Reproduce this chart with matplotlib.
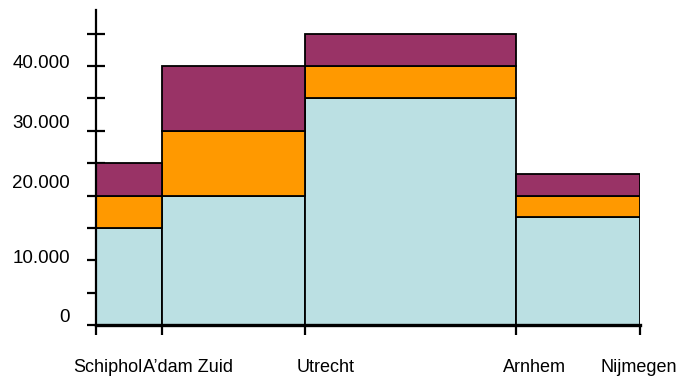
import matplotlib
matplotlib.use("Agg")
import matplotlib.pyplot as plt
import matplotlib.transforms as mtransforms
import numpy as np

plt.rcParams['font.family'] = ['Liberation Sans', 'DejaVu Sans']

# Stations along the route and the cumulative route position of each
stations = ["Schiphol", "A\u2019dam Zuid", "Utrecht", "Arnhem", "Nijmegen"]
positions = [0, 66, 209, 420, 544]

# Passenger volumes per section (three stacked segments)
seg_base = [15000, 20000, 35000, 16700]
seg_mid = [5000, 10000, 5000, 3300]
seg_top = [5000, 10000, 5000, 3300]

colors = ["#BBE0E3", "#FF9900", "#993366"]

y_ticks_major = [0, 10000, 20000, 30000, 40000]
y_tick_labels = ["0", "10.000", "20.000", "30.000", "40.000"]
y_ticks_all = list(range(0, 45001, 5000))

fig = plt.figure(figsize=(6.83, 3.78), dpi=100)
ax = fig.add_axes([96 / 683, 53 / 378, 544 / 683, 315 / 378])

left = np.array(positions[:-1])
widths = np.diff(positions)
bottom = np.zeros(len(widths))
for vals, col in zip([seg_base, seg_mid, seg_top], colors):
    ax.bar(left, vals, width=widths, bottom=bottom, align='edge',
           color=col, edgecolor='black', linewidth=1.3, zorder=2)
    bottom += np.array(vals)

ax.set_xlim(positions[0], positions[-1])
ax.set_ylim(0, 48650)

for s in ['top', 'right']:
    ax.spines[s].set_visible(False)
ax.spines['left'].set_linewidth(1.6)
ax.spines['bottom'].set_linewidth(2.4)
ax.spines['left'].set_zorder(3)
ax.spines['bottom'].set_zorder(3)

# y axis: ticks crossing the axis, labels drawn separately
ax.set_yticks(y_ticks_all)
ax.set_yticklabels([])
ax.tick_params(axis='y', direction='inout', length=13.5, width=1.6)
label_shift_px = [8, 2, 12, 7, 2.5]
for val, lab, dy in zip(y_ticks_major, y_tick_labels, label_shift_px):
    tr = ax.get_yaxis_transform() + mtransforms.ScaledTranslation(
        -26 / 100, dy / 100, fig.dpi_scale_trans)
    ax.text(0, val, lab, transform=tr, ha='right', va='center', fontsize=13.5)

# x axis: ticks at station boundaries, labels drawn separately
ax.set_xticks(positions)
ax.set_xticklabels([])
ax.tick_params(axis='x', direction='out', length=7.5, width=1.6)
x_label_shift_px = [-23, -19, -8, -13, -40]
for pos, lab, dx in zip(positions, stations, x_label_shift_px):
    tr = ax.get_xaxis_transform() + mtransforms.ScaledTranslation(
        dx / 100, -43 / 100, fig.dpi_scale_trans)
    ax.text(pos, 0, lab, transform=tr, ha='left', va='center', fontsize=13)

fig.savefig("out.png", dpi=100)
